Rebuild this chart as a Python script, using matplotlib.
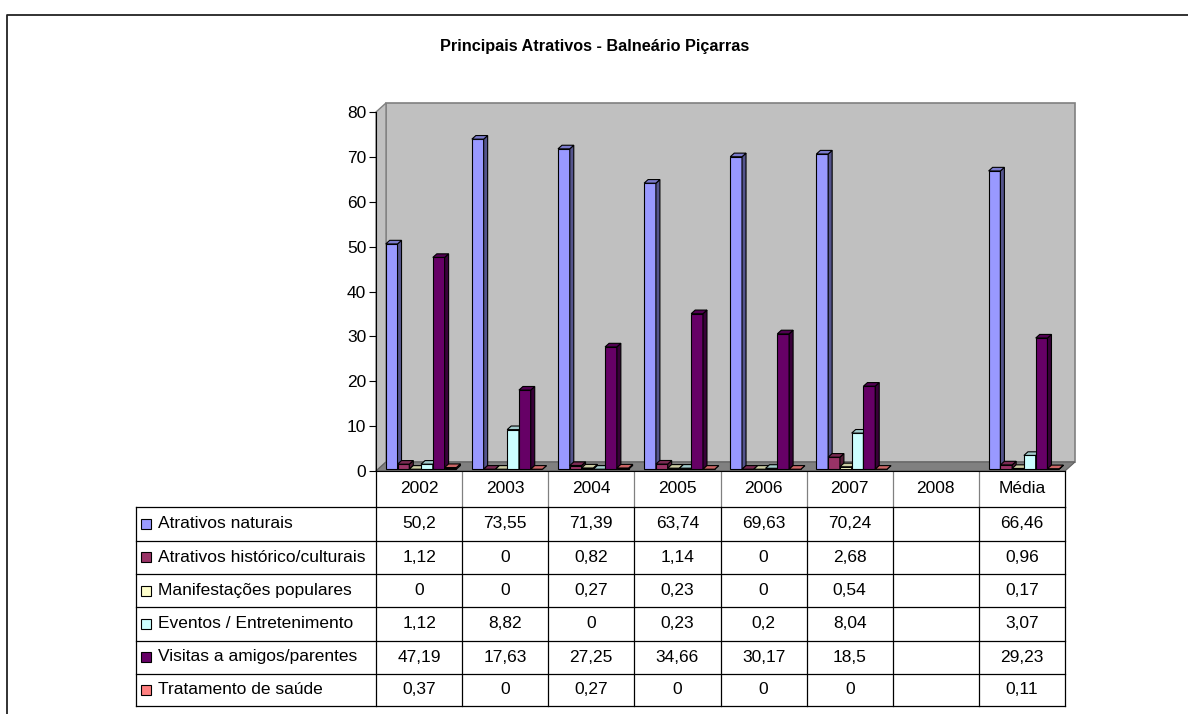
import matplotlib
matplotlib.use("Agg")
import matplotlib.pyplot as plt
from matplotlib.patches import Polygon, Rectangle
from matplotlib.lines import Line2D
from matplotlib.transforms import blended_transform_factory
import numpy as np

# dados
categorias = ['2002', '2003', '2004', '2005', '2006', '2007', '2008', 'Média']
series_nomes = ['Atrativos naturais', 'Atrativos histórico/culturais',
                'Manifestações populares', 'Eventos / Entretenimento',
                'Visitas a amigos/parentes', 'Tratamento de saúde']
naturais = [50.2, 73.55, 71.39, 63.74, 69.63, 70.24, None, 66.46]
historicos = [1.12, 0, 0.82, 1.14, 0, 2.68, None, 0.96]
manifestacoes = [0, 0, 0.27, 0.23, 0, 0.54, None, 0.17]
eventos = [1.12, 8.82, 0, 0.23, 0.2, 8.04, None, 3.07]
visitas = [47.19, 17.63, 27.25, 34.66, 30.17, 18.5, None, 29.23]
saude = [0.37, 0, 0.27, 0, 0, 0, None, 0.11]
series = [naturais, historicos, manifestacoes, eventos, visitas, saude]
cores = ['#9999FF', '#993366', '#FFFFCC', '#CCFFFF', '#660066', '#FF8080']

plt.rcParams['font.family'] = ['Liberation Sans', 'DejaVu Sans']
W, H = 1188, 714
fs = 12.5
fig = plt.figure(figsize=(W / 100, H / 100), dpi=100)


def fx(px):
    return px / W


def fy(px):
    return 1 - px / H


# area do grafico (frente)
x_left, x_right, y_zero, y_top = 376, 1065, 471, 112
ax = fig.add_axes([fx(x_left), fy(y_zero), fx(x_right - x_left), (y_zero - y_top) / H])
n = len(categorias)
ax.set_xlim(0, n)
ax.set_ylim(0, 80)
ax.set_yticks(range(0, 81, 10))
ax.set_xticks([])
ax.tick_params(axis='y', length=5, width=0.8, labelsize=fs, pad=2)
for s in ['top', 'right']:
    ax.spines[s].set_visible(False)
ax.spines['left'].set_linewidth(0.8)
ax.spines['bottom'].set_linewidth(0.8)
ax.patch.set_visible(False)

# profundidade 3D (px -> unidades de dados)
dx = 10 / ((x_right - x_left) / n)
dy = 9 / ((y_zero - y_top) / 80)

# paredes e piso
ax.add_patch(Polygon([(dx, dy), (n + dx, dy), (n + dx, 80 + dy), (dx, 80 + dy)],
                     closed=True, fc='#C0C0C0', ec='#808080', lw=1.2, clip_on=False, zorder=0))
ax.add_patch(Polygon([(0, 0), (dx, dy), (dx, 80 + dy), (0, 80)],
                     closed=True, fc='#C0C0C0', ec='#808080', lw=1.0, clip_on=False, zorder=0))
ax.add_patch(Polygon([(0, 0), (n, 0), (n + dx, dy), (dx, dy)],
                     closed=True, fc='#808080', ec='#606060', lw=0.8, clip_on=False, zorder=0.5))


def escurecer(c, f):
    rgb = np.array(matplotlib.colors.to_rgb(c))
    return tuple(rgb * f)


# barras 3D
gw = 0.82
bw = gw / len(series)
d0, d1 = 0.2, 0.6
for i in range(n):
    for j, vals in enumerate(series):
        v = vals[i]
        if v is None:
            continue
        x0 = i + (1 - gw) / 2 + j * bw + d0 * dx
        y0 = d0 * dy
        ox, oy = (d1 - d0) * dx, (d1 - d0) * dy
        c = cores[j]
        ax.add_patch(Rectangle((x0, y0), bw, v, fc=c, ec='black', lw=0.8, clip_on=False, zorder=2))
        ax.add_patch(Polygon([(x0 + bw, y0), (x0 + bw + ox, y0 + oy), (x0 + bw + ox, y0 + v + oy), (x0 + bw, y0 + v)],
                             closed=True, fc=escurecer(c, 0.55), ec='black', lw=0.8, clip_on=False, zorder=2))
        ax.add_patch(Polygon([(x0, y0 + v), (x0 + bw, y0 + v), (x0 + bw + ox, y0 + v + oy), (x0 + ox, y0 + v + oy)],
                             closed=True, fc=escurecer(c, 0.8), ec='black', lw=0.8, clip_on=False, zorder=2))

# tabela de dados
tb = blended_transform_factory(ax.transData, fig.transFigure)
leg_left = (136 - x_left) / ((x_right - x_left) / n)
row_y = [471, 506.5, 540.5, 574, 607, 640.5, 673.5, 706]
for k in range(n + 1):
    ax.add_line(Line2D([k, k], [fy(471), fy(506.5)], transform=tb, color='#808080' if 0 < k < n else 'black',
                       lw=0.9, clip_on=False))
    ax.add_line(Line2D([k, k], [fy(506.5), fy(706)], transform=tb, color='black', lw=0.9, clip_on=False))
ax.add_line(Line2D([leg_left, leg_left], [fy(506.5), fy(706)], transform=tb, color='black', lw=0.9, clip_on=False))
for yy in row_y[1:]:
    ax.add_line(Line2D([leg_left, n], [fy(yy), fy(yy)], transform=tb, color='black', lw=0.9, clip_on=False))

for i, cat in enumerate(categorias):
    ax.text(i + 0.5, fy((row_y[0] + row_y[1]) / 2), cat, transform=tb, ha='center', va='center', fontsize=fs)

unit = (x_right - x_left) / n
for j, (nome, vals) in enumerate(zip(series_nomes, series)):
    yc = fy((row_y[j + 1] + row_y[j + 2]) / 2)
    ax.add_patch(Rectangle((leg_left + 5 / unit, yc - 5 / H), 10 / unit, 10 / H, transform=tb,
                           fc=cores[j], ec='black', lw=0.8, clip_on=False))
    ax.text(leg_left + 22 / unit, yc, nome, transform=tb, ha='left', va='center', fontsize=fs)
    for i, v in enumerate(vals):
        if v is None:
            continue
        ax.text(i + 0.5, yc, f"{v:g}".replace('.', ','), transform=tb, ha='center', va='center', fontsize=fs)

# titulo e moldura
fig.text(fx(595), fy(47), 'Principais Atrativos - Balneário Piçarras', ha='center', va='center',
         fontsize=11.7, fontweight='bold')
fig.add_artist(Line2D([fx(7), fx(7), fx(1188)], [0, fy(15), fy(15)], transform=fig.transFigure,
                      color='#222222', lw=1.3))

fig.savefig('out.png', dpi=100)
